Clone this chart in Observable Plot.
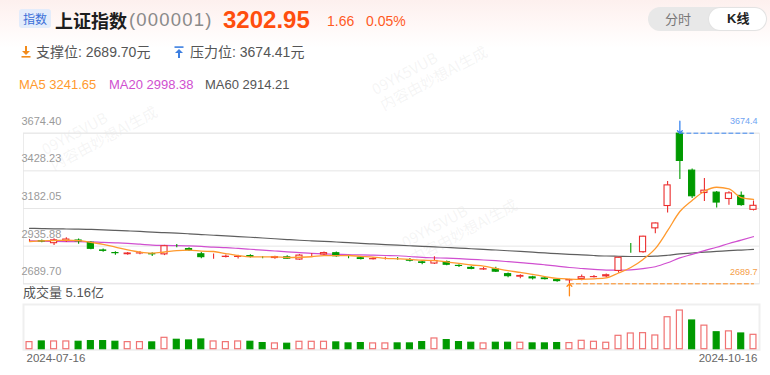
<!DOCTYPE html>
<html>
<head>
<meta charset="utf-8">
<script src="https://cdn.jsdelivr.net/npm/d3@7"></script>
<script src="https://cdn.jsdelivr.net/npm/@observablehq/plot@0.6"></script>
<style>
  html, body { margin: 0; padding: 0; background: #fff; }
  #root { position: relative; width: 770px; height: 375px; overflow: hidden;
    font-family: "Liberation Sans", "Noto Sans CJK SC", sans-serif;
    background: linear-gradient(180deg, #fdf0ee 0px, #fff8f7 25px, #ffffff 48px); }
  .abs { position: absolute; white-space: nowrap; }
  .wm { position: absolute; color: rgba(170,170,170,0.13); font-size: 15px; transform: rotate(-28deg); white-space: nowrap; line-height: 18px; pointer-events: none; font-family: "Noto Sans CJK SC", sans-serif; }
</style>
</head>
<body>
<div id="root"></div>
<script>
// ---------- data ----------
const dates = ["2024-07-16","2024-07-17","2024-07-18","2024-07-19","2024-07-22","2024-07-23","2024-07-24","2024-07-25","2024-07-26","2024-07-29",
"2024-07-30","2024-07-31","2024-08-01","2024-08-02","2024-08-05","2024-08-06","2024-08-07","2024-08-08","2024-08-09","2024-08-12",
"2024-08-13","2024-08-14","2024-08-15","2024-08-16","2024-08-19","2024-08-20","2024-08-21","2024-08-22","2024-08-23","2024-08-26",
"2024-08-27","2024-08-28","2024-08-29","2024-08-30","2024-09-02","2024-09-03","2024-09-04","2024-09-05","2024-09-06","2024-09-09",
"2024-09-10","2024-09-11","2024-09-12","2024-09-13","2024-09-18","2024-09-19","2024-09-20","2024-09-23","2024-09-24","2024-09-25",
"2024-09-26","2024-09-27","2024-09-30","2024-10-08","2024-10-09","2024-10-10","2024-10-11","2024-10-14","2024-10-15","2024-10-16"];

const open = [2970.6,2970.5,2952,2966,2976,2961,2911,2894,2880,2885,
2887,2879,2937,2920,2886,2865,2862,2862,2874,2863,
2855,2866,2845,2873,2878,2893,2863,2860,2847,2852,
2855,2847,2833,2819,2835,2810,2797,2780,2787,2756,
2733,2735,2728,2717,2709,2718,2730,2735,2770.75,2901.42,
2893,3049,3195,3674.41,3433,3280,3289,3241,3268,3170];

const high = [2979.9,2975.8,2984,2990,2983,2965,2917,2899,2894,2901,
2892,2941,2946,2925,2894,2885,2878,2877,2880,2869,
2870,2873,2881,2888,2898,2897,2868,2866,2861,2863,
2862,2855,2838,2866,2838,2814,2802,2797,2798,2760,
2749,2739,2731,2719,2720,2748,2744,2754,2863.13,2952.45,
3000.95,3087.53,3358,3674.41,3441,3378,3294,3292,3290,3231];

const low = [2962.5,2958.5,2940,2960,2948,2913,2896,2877,2877,2879,
2869,2874,2926,2901,2853,2850,2859,2852,2858,2853,
2850,2848,2843,2866,2871,2863,2853,2845,2845,2845,
2844,2832,2815,2816,2808,2796,2781,2778,2764,2729,
2722,2715,2714,2700,2689.70,2709,2727,2730,2759,2889.05,
2889,3017,3152,3371.78,3247,3228,3185,3203,3196,3166];

const close = [2976.30,2962.85,2977.13,2982.31,2964.22,2915.37,2901.95,2886.74,2890.90,2891.85,
2879.30,2938.75,2932.39,2905.34,2860.70,2867.28,2869.90,2869.83,2862.19,2858.20,
2867.95,2850.65,2877.36,2879.43,2893.67,2866.66,2856.58,2848.77,2854.37,2855.52,
2848.73,2837.43,2823.11,2842.21,2811.04,2802.98,2784.28,2788.31,2765.81,2736.49,
2744.19,2721.80,2717.12,2704.09,2717.28,2736.02,2736.81,2748.92,2863.13,2896.31,
3000.95,3087.53,3336.50,3489.78,3258.86,3301.93,3217.74,3284.32,3201.29,3202.95];

// volume in 亿
const volume = [2.74,2.96,2.96,2.96,2.85,3.07,3.07,2.85,2.74,2.74,
2.64,4.17,3.51,3.29,3.62,2.96,2.74,2.96,2.85,2.42,
2.31,2.20,2.85,2.85,2.85,2.64,2.31,2.42,2.31,2.31,
2.31,2.31,2.74,3.95,3.40,2.74,2.53,2.31,2.53,2.53,
2.53,2.31,2.31,2.42,2.42,3.18,2.85,2.53,4.83,5.60,
5.71,4.94,10.98,13.2,9.9,8.2,6.0,6.3,5.6,5.16];

// 1 = red (hollow) volume bar, 0 = green (filled)
const volDir = [1,0,1,1,0,0,0,0,1,1,
0,1,0,0,0,1,1,1,0,0,
1,0,1,1,1,0,0,0,1,1,
0,0,0,1,0,0,0,1,0,0,
1,0,0,0,1,1,1,1,1,1,
1,1,1,1,0,1,0,1,0,1];

const ma5 = [2966.27,2970.97,2972.32,2974.52,2972.56,2960.38,2948.20,2930.12,2911.84,2897.36,
2890.15,2897.51,2906.64,2909.53,2903.30,2900.89,2887.12,2874.61,2865.98,2865.48,
2865.61,2861.76,2863.27,2866.72,2873.81,2873.55,2874.74,2869.02,2864.01,2856.38,
2852.79,2848.96,2843.83,2841.40,2832.50,2823.35,2812.72,2805.76,2790.48,2775.57,
2763.82,2751.32,2737.08,2724.74,2720.90,2719.26,2722.26,2728.62,2760.43,2796.24,
2849.22,2919.37,3036.88,3162.21,3234.72,3294.92,3320.96,3310.53,3252.83,3241.65];

const ma20 = [2970.77,2968.01,2966.59,2965.80,2965.85,2964.12,2960.59,2957.64,2953.81,2948.67,
2942.78,2940.60,2939.34,2937.11,2934.03,2929.42,2925.95,2920.92,2915.47,2909.68,
2904.26,2898.65,2893.66,2888.52,2884.99,2882.55,2880.28,2878.39,2876.56,2874.74,
2873.21,2868.15,2862.68,2859.53,2857.04,2853.83,2849.55,2845.47,2840.65,2834.57,
2828.38,2821.94,2813.93,2805.16,2796.34,2789.81,2783.82,2778.83,2779.26,2781.30,
2788.91,2801.42,2827.09,2859.47,2881.86,2906.81,2928.48,2953.28,2975.05,2998.38];

const ma60 = [3052.52,3050.67,3049.21,3048.17,3047.22,3045.08,3042.58,3039.23,3035.53,3031.98,
3027.62,3024.15,3020.89,3016.75,3011.86,3007.18,3002.59,2998.44,2994.11,2989.18,
2984.13,2979.02,2974.34,2970.40,2967.16,2962.87,2958.66,2954.29,2950.35,2946.49,
2942.67,2938.44,2934.41,2930.98,2926.98,2923.23,2919.02,2915.02,2910.57,2905.91,
2901.14,2896.20,2891.39,2886.49,2882.39,2878.82,2874.89,2871.61,2869.87,2868.23,
2868.30,2870.05,2876.37,2885.37,2890.98,2896.69,2901.33,2906.56,2910.39,2914.21];

const yTicks = [2689.70, 2935.88, 3182.05, 3428.23, 3674.40];

const stockName = "上证指数", stockCode = "000001";
const lastPrice = 3202.95, change = 1.66, changePct = "0.05%";

// ---------- build ----------
const RED = "#ec2d2d", GREEN = "#009a00", ORANGE = "#ff9a2e", MAG = "#d04fd0", GRAY = "#5f5f5f";
const BLUE = "#3b86f0", ORANGE2 = "#ff8a1a";
const FONT = "'Liberation Sans', 'Noto Sans CJK SC', sans-serif";

const rows = dates.map((d, i) => ({
  date: d, open: open[i], high: high[i], low: low[i], close: close[i],
  vol: volume[i], vup: volDir[i] === 1, ma5: ma5[i], ma20: ma20[i], ma60: ma60[i]
}));
const hiIdx = d3.maxIndex(high), loIdx = d3.minIndex(low);
const hiRow = rows[hiIdx], loRow = rows[loIdx], lastRow = rows[rows.length - 1];

const root = document.getElementById("root");
function el(html, style) {
  const d = document.createElement("div");
  d.className = "abs";
  d.innerHTML = html;
  Object.assign(d.style, style);
  root.appendChild(d);
  return d;
}

// watermarks (faint)
[[40,112],[400,205],[370,52]].forEach(([x,y]) => {
  const w = document.createElement("div");
  w.className = "wm";
  w.style.left = x + "px"; w.style.top = y + "px";
  w.innerHTML = "09YK5VUB<br>内容由妙想AI生成";
  root.appendChild(w);
});

// header row 1
el("指数", {left:"19px", top:"9px", width:"32px", height:"19px", lineHeight:"19px", fontSize:"12px",
  textAlign:"center", color:"#3a6fd8", background:"#e3ecfb", borderRadius:"3px", fontFamily:"'Noto Sans CJK SC', sans-serif"});
el(stockName, {left:"55px", top:"8px", lineHeight:"24px", fontSize:"18px", fontWeight:"700", color:"#1d1d1d", fontFamily:"'Noto Sans CJK SC', sans-serif"});
el("(" + stockCode + ")", {left:"129px", top:"8px", lineHeight:"24px", fontSize:"18.5px", letterSpacing:"1.2px", color:"#8a8a8a"});
el(lastPrice.toFixed(2), {left:"223px", top:"5px", lineHeight:"30px", fontSize:"24px", fontWeight:"700", color:"#ff4e0e"});
el(change.toFixed(2), {left:"327px", top:"11px", lineHeight:"20px", fontSize:"14px", color:"#ff5a1f"});
el(changePct, {left:"366px", top:"11px", lineHeight:"20px", fontSize:"14px", color:"#ff5a1f"});

// row 2
el('<svg width="10" height="12" viewBox="0 0 10 12"><path d="M4 0h2v5h3L5 9 1 5h3z" fill="#f28a1a"/><rect x="0.5" y="10" width="9" height="1.6" fill="#f28a1a"/></svg>',
  {left:"21px", top:"46px", lineHeight:"0"});
el("支撑位: " + d3.min(low).toFixed(2) + "元", {left:"36px", top:"42px", lineHeight:"20px", fontSize:"14px", color:"#555"});
el('<svg width="10" height="12" viewBox="0 0 10 12"><rect x="0.5" y="0.3" width="9" height="1.6" fill="#3d7fe0"/><path d="M5 3l4 4H6v5H4V7H1z" fill="#3d7fe0"/></svg>',
  {left:"174px", top:"46px", lineHeight:"0"});
el("压力位: " + d3.max(high).toFixed(2) + "元", {left:"190px", top:"42px", lineHeight:"20px", fontSize:"14px", color:"#555"});

// row 3
el("MA5 " + lastRow.ma5.toFixed(2), {left:"19px", top:"76px", lineHeight:"18px", fontSize:"13px", color:"#ff9a2e"});
el("MA20 " + lastRow.ma20.toFixed(2), {left:"109px", top:"76px", lineHeight:"18px", fontSize:"13px", color:"#d04fd0"});
el("MA60 " + lastRow.ma60.toFixed(2), {left:"205px", top:"76px", lineHeight:"18px", fontSize:"13px", color:"#555"});

// toggle
el("", {left:"648px", top:"7px", width:"119px", height:"24px", borderRadius:"12px", background:"#e8e8e8"});
el("", {left:"709px", top:"8px", width:"57px", height:"22px", borderRadius:"11px", background:"#fff", boxShadow:"0 0 2px rgba(0,0,0,0.08)"});
el("分时", {left:"665px", top:"9px", lineHeight:"20px", fontSize:"13px", color:"#777", fontFamily:"'Noto Sans CJK SC', sans-serif"});
el("K线", {left:"727px", top:"9px", lineHeight:"20px", fontSize:"13px", fontWeight:"700", color:"#222"});

// volume caption
el("成交量 " + lastRow.vol.toFixed(2) + "亿", {left:"23px", top:"284px", lineHeight:"18px", fontSize:"13px", color:"#555"});

const xOpts = {type: "band", domain: dates, paddingInner: 0.42, paddingOuter: 0.2, round: false, axis: null};
const upC = d => d.close >= d.open;

// ---------- price panel ----------
const price = Plot.plot({
  width: 770, height: 200,
  marginTop: 32.7, marginBottom: 16.7, marginLeft: 23, marginRight: 11,
  style: {background: "transparent", fontFamily: FONT, overflow: "visible"},
  x: xOpts,
  y: {domain: [yTicks[0], yTicks[yTicks.length - 1]], axis: null},
  color: {type: "identity"},
  marks: [
    Plot.frame({stroke: "#ebebeb"}),
    Plot.gridY(yTicks, {stroke: "#e6e6e6", strokeOpacity: 1}),
    Plot.text(yTicks, {y: d => d, text: d => d.toFixed(2), frameAnchor: "left", textAnchor: "start",
      dx: -2, dy: -12, fill: "#9a9a9a", fontSize: 11}),
    Plot.line(rows, {x: "date", y: "ma60", stroke: GRAY, strokeWidth: 1.2, curve: "monotone-x"}),
    Plot.line(rows, {x: "date", y: "ma20", stroke: MAG, strokeWidth: 1.2, curve: "monotone-x"}),
    Plot.ruleX(rows, {x: "date", y1: "low", y2: "high", stroke: d => upC(d) ? RED : GREEN, strokeWidth: 1.1}),
    Plot.barY(rows, {x: "date", y1: "open", y2: "close", fill: d => upC(d) ? "#fff" : GREEN,
      stroke: d => upC(d) ? RED : GREEN, strokeWidth: 1.1, inset: 0.5}),
    Plot.line(rows, {x: "date", y: "ma5", stroke: ORANGE, strokeWidth: 1.3, curve: "monotone-x"}),
    Plot.line([hiRow, lastRow], {x: "date", y: () => hiRow.high, stroke: BLUE, strokeWidth: 1, strokeDasharray: "4,3"}),
    Plot.line([loRow, lastRow], {x: "date", y: () => loRow.low, stroke: ORANGE2, strokeWidth: 1, strokeDasharray: "4,3"}),
    Plot.vector([hiRow], {x: "date", y: "high", length: 12, rotate: 180, anchor: "end", stroke: BLUE, strokeWidth: 1.3}),
    Plot.vector([loRow], {x: "date", y: "low", length: 12, rotate: 0, anchor: "end", stroke: ORANGE2, strokeWidth: 1.3}),
    Plot.text([hiRow.high], {y: d => d, text: d => d.toFixed(1), frameAnchor: "right", textAnchor: "end",
      dx: -2, dy: -11.6, fill: "#6fa4f2", fontSize: 9}),
    Plot.text([loRow.low], {y: d => d, text: d => d.toFixed(1), frameAnchor: "right", textAnchor: "end",
      dx: -2, dy: -11.6, fill: "#f5a04a", fontSize: 9})
  ]
});
const pw = document.createElement("div");
pw.style.cssText = "position:absolute;left:0;top:100px;";
pw.appendChild(price);
root.appendChild(pw);

// ---------- volume panel ----------
const vol = Plot.plot({
  width: 770, height: 72,
  marginTop: 6, marginBottom: 20.7, marginLeft: 23, marginRight: 11,
  style: {background: "transparent", fontFamily: FONT, overflow: "visible"},
  x: xOpts,
  y: {domain: [0, 15], axis: null},
  color: {type: "identity"},
  marks: [
    Plot.frame({stroke: "#efefef", strokeWidth: 2}),
    Plot.barY(rows, {x: "date", y: "vol", fill: d => d.vup ? "#fff" : GREEN,
      stroke: d => d.vup ? "#f07272" : GREEN, strokeWidth: 1.2, inset: 0.6}),
    Plot.text([rows[0]], {x: "date", text: "date", frameAnchor: "bottom", textAnchor: "start",
      dx: -3, dy: 12, fill: "#666", fontSize: 11.5}),
    Plot.text([lastRow], {x: "date", text: "date", frameAnchor: "bottom", textAnchor: "end",
      dx: 4, dy: 12, fill: "#666", fontSize: 11.5})
  ]
});
const vw = document.createElement("div");
vw.style.cssText = "position:absolute;left:0;top:298px;";
vw.appendChild(vol);
root.appendChild(vw);
</script>
</body>
</html>
